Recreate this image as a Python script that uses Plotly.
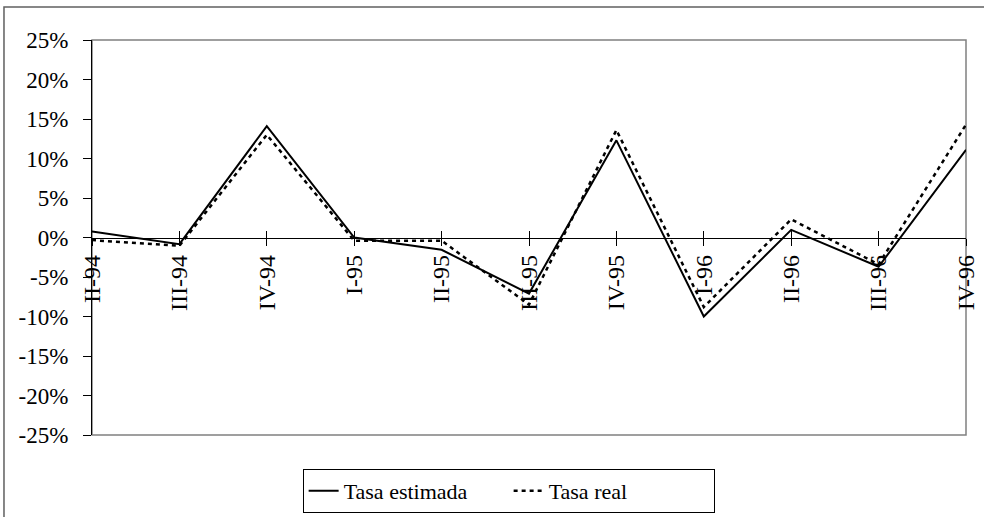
import plotly.graph_objects as go

categories = ["II-94", "III-94", "IV-94", "I-95", "II-95", "III-95", "IV-95",
              "I-96", "II-96", "III-96", "IV-96"]
tasa_estimada = [0.76, -0.84, 14.1, 0.0, -1.56, -7.1, 12.3, -10.0, 0.97, -3.7, 11.1]
tasa_real = [-0.33, -1.05, 13.0, -0.4, -0.4, -8.5, 13.6, -8.8, 2.3, -3.4, 14.3]
y_ticks = [-25, -20, -15, -10, -5, 0, 5, 10, 15, 20, 25]
y_ticktext = [f"{v}%" for v in y_ticks]

FONT = "Liberation Serif, Times New Roman, serif"

fig = go.Figure()
fig.add_trace(go.Scatter(x=categories, y=tasa_estimada, mode="lines", name="Tasa estimada",
                         line=dict(color="black", width=2)))
fig.add_trace(go.Scatter(x=categories, y=tasa_real, mode="lines", name="Tasa real",
                         line=dict(color="black", width=2.5, dash="4px,4px")))

fig.update_layout(
    width=984, height=517,
    margin=dict(l=92, r=18, t=40, b=82, autoexpand=False),
    paper_bgcolor="white", plot_bgcolor="white",
    font=dict(family=FONT, size=22, color="black"),
    showlegend=True,
    legend=dict(orientation="h", x=0.241, y=-0.086, xanchor="left", yanchor="top",
                bordercolor="black", borderwidth=1, bgcolor="white",
                font=dict(family=FONT, size=22), entrywidth=160, tracegroupgap=0),
    xaxis=dict(type="category", categoryorder="array", categoryarray=categories,
               range=[0, len(categories) - 1], anchor="free", position=0.5,
               showline=True, linecolor="black", linewidth=1,
               ticks="outside", ticklen=7, tickcolor="black", tickangle=-90,
               showgrid=False, zeroline=False, tickfont=dict(family=FONT, size=24),
               ticklabelstandoff=0, automargin=False),
    xaxis2=dict(overlaying="x", anchor="free", position=0.5, range=[0, len(categories) - 1],
                tickvals=list(range(len(categories))), showticklabels=False,
                ticks="inside", ticklen=7, tickcolor="black", showline=False,
                showgrid=False, zeroline=False, automargin=False),
    yaxis=dict(range=[-25, 25], tickvals=y_ticks, ticktext=y_ticktext,
               showline=True, linecolor="black", linewidth=1.2,
               ticks="outside", ticklen=8, tickcolor="black",
               showgrid=False, zeroline=False, tickfont=dict(family=FONT, size=23),
               ticklabelstandoff=10, automargin=False),
)

# invisible trace to activate xaxis2
fig.add_trace(go.Scatter(x=[0], y=[0], xaxis="x2", mode="markers",
                         marker=dict(opacity=0), showlegend=False, hoverinfo="skip"))

# plot-area gray box
fig.add_shape(type="rect", xref="paper", yref="paper", x0=0, x1=1, y0=0, y1=1,
              line=dict(color="#808080", width=1.5), layer="below")
# outer chart border (top and left visible)
fig.add_shape(type="rect", xref="paper", yref="paper", x0=-0.1007, x1=1.2, y0=-0.6, y1=1.0835,
              line=dict(color="#606060", width=1.5), layer="below")

fig.write_html("out.html", config={"displayModeBar": False},
               post_script="document.body.style.margin='0';document.body.style.padding='0';")
